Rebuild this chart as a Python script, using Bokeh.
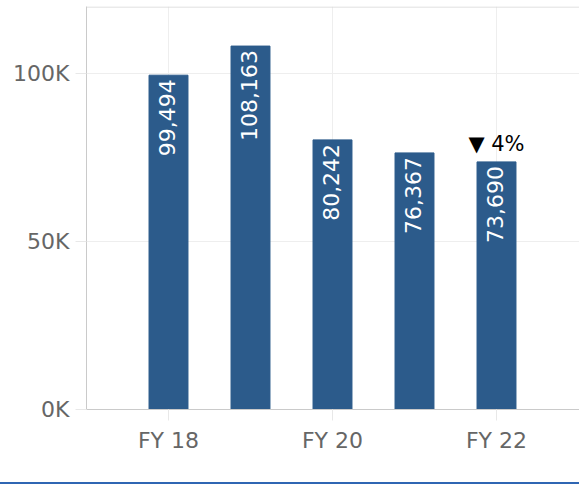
import math
from bokeh.plotting import figure
from bokeh.models import ColumnDataSource, FixedTicker, Span, Div
from bokeh.layouts import column
from bokeh.core.properties import value
from bokeh.embed import file_html
from bokeh.resources import INLINE

# ---- data ----
years = [18, 19, 20, 21, 22]
values = [99494, 108163, 80242, 76367, 73690]
x_tick_years = [18, 20, 22]
x_tick_labels = ["FY 18", "FY 20", "FY 22"]
y_ticks = [0, 50000, 100000]
y_tick_labels = ["0K", "50K", "100K"]

FONT = "DejaVu Sans"
BAR = "#2c5b8b"
GRID = "#eeeeee"
AXIS = "#cacaca"
TICKTXT = "#666666"

pct = round(abs((values[-1] - values[-2]) / values[-2] * 100))
arrow = "\u25BC" if values[-1] < values[-2] else "\u25B2"

src = ColumnDataSource(dict(x=years, top=values, label=[f"{v:,}" for v in values]))

W, H = 579, 482
left_b, top_b, bottom_b = 86, 6, 73
px_per_unit = 82.0
px_per_val = 336.0 / 100000
frame_w = W - left_b
frame_h = H - top_b - bottom_b
x0 = min(years) - 1
y_top = frame_h / px_per_val

p = figure(width=W, height=H, output_backend="svg", toolbar_location=None,
           x_range=(x0, x0 + frame_w / px_per_unit), y_range=(0, y_top),
           min_border_left=left_b, min_border_right=0, min_border_top=top_b,
           min_border_bottom=bottom_b, margin=(0, 0, 0, 0))
p.outline_line_color = None
p.background_fill_color = "white"

p.xgrid.grid_line_color = GRID
p.ygrid.grid_line_color = GRID

p.vbar(x="x", top="top", width=0.475, source=src, color=BAR)

p.text(x="x", y="top", text="label", source=src, angle=math.pi / 2,
       text_align="right", text_baseline="middle", y_offset=4, x_offset=-2,
       text_color="white", text_font=value(FONT), text_font_size="22px")

p.text(x=[years[-1]], y=[values[-1]], text=[f"{arrow} {pct}%"],
       text_align="center", text_baseline="alphabetic", y_offset=-18,
       text_color="black", text_font=value(FONT), text_font_size="21px")

p.add_layout(Span(location=y_top - 0.5 / px_per_val, dimension="width",
                  line_color="#d6d6d6", line_width=1))

p.xaxis.ticker = FixedTicker(ticks=x_tick_years)
p.xaxis.major_label_overrides = dict(zip(x_tick_years, x_tick_labels))
p.yaxis.ticker = FixedTicker(ticks=y_ticks)
p.yaxis.major_label_overrides = dict(zip(y_ticks, y_tick_labels))

for ax in (p.xaxis, p.yaxis):
    ax.axis_line_color = AXIS
    ax.major_tick_line_color = "#e8e8e8"
    ax.minor_tick_line_color = None
    ax.major_tick_in = 0
    ax.major_tick_out = 11
    ax.major_label_text_font = FONT
    ax.major_label_text_font_size = "22px"
    ax.major_label_text_color = TICKTXT
p.xaxis.major_label_standoff = 7
p.yaxis.major_label_standoff = 6

rule = Div(text="", width=W, height=2, margin=(0, 0, 0, 0),
           styles={"background-color": "#2f66b3"})

layout = column(p, rule, spacing=0)
open("out.html", "w").write(file_html(layout, INLINE))
